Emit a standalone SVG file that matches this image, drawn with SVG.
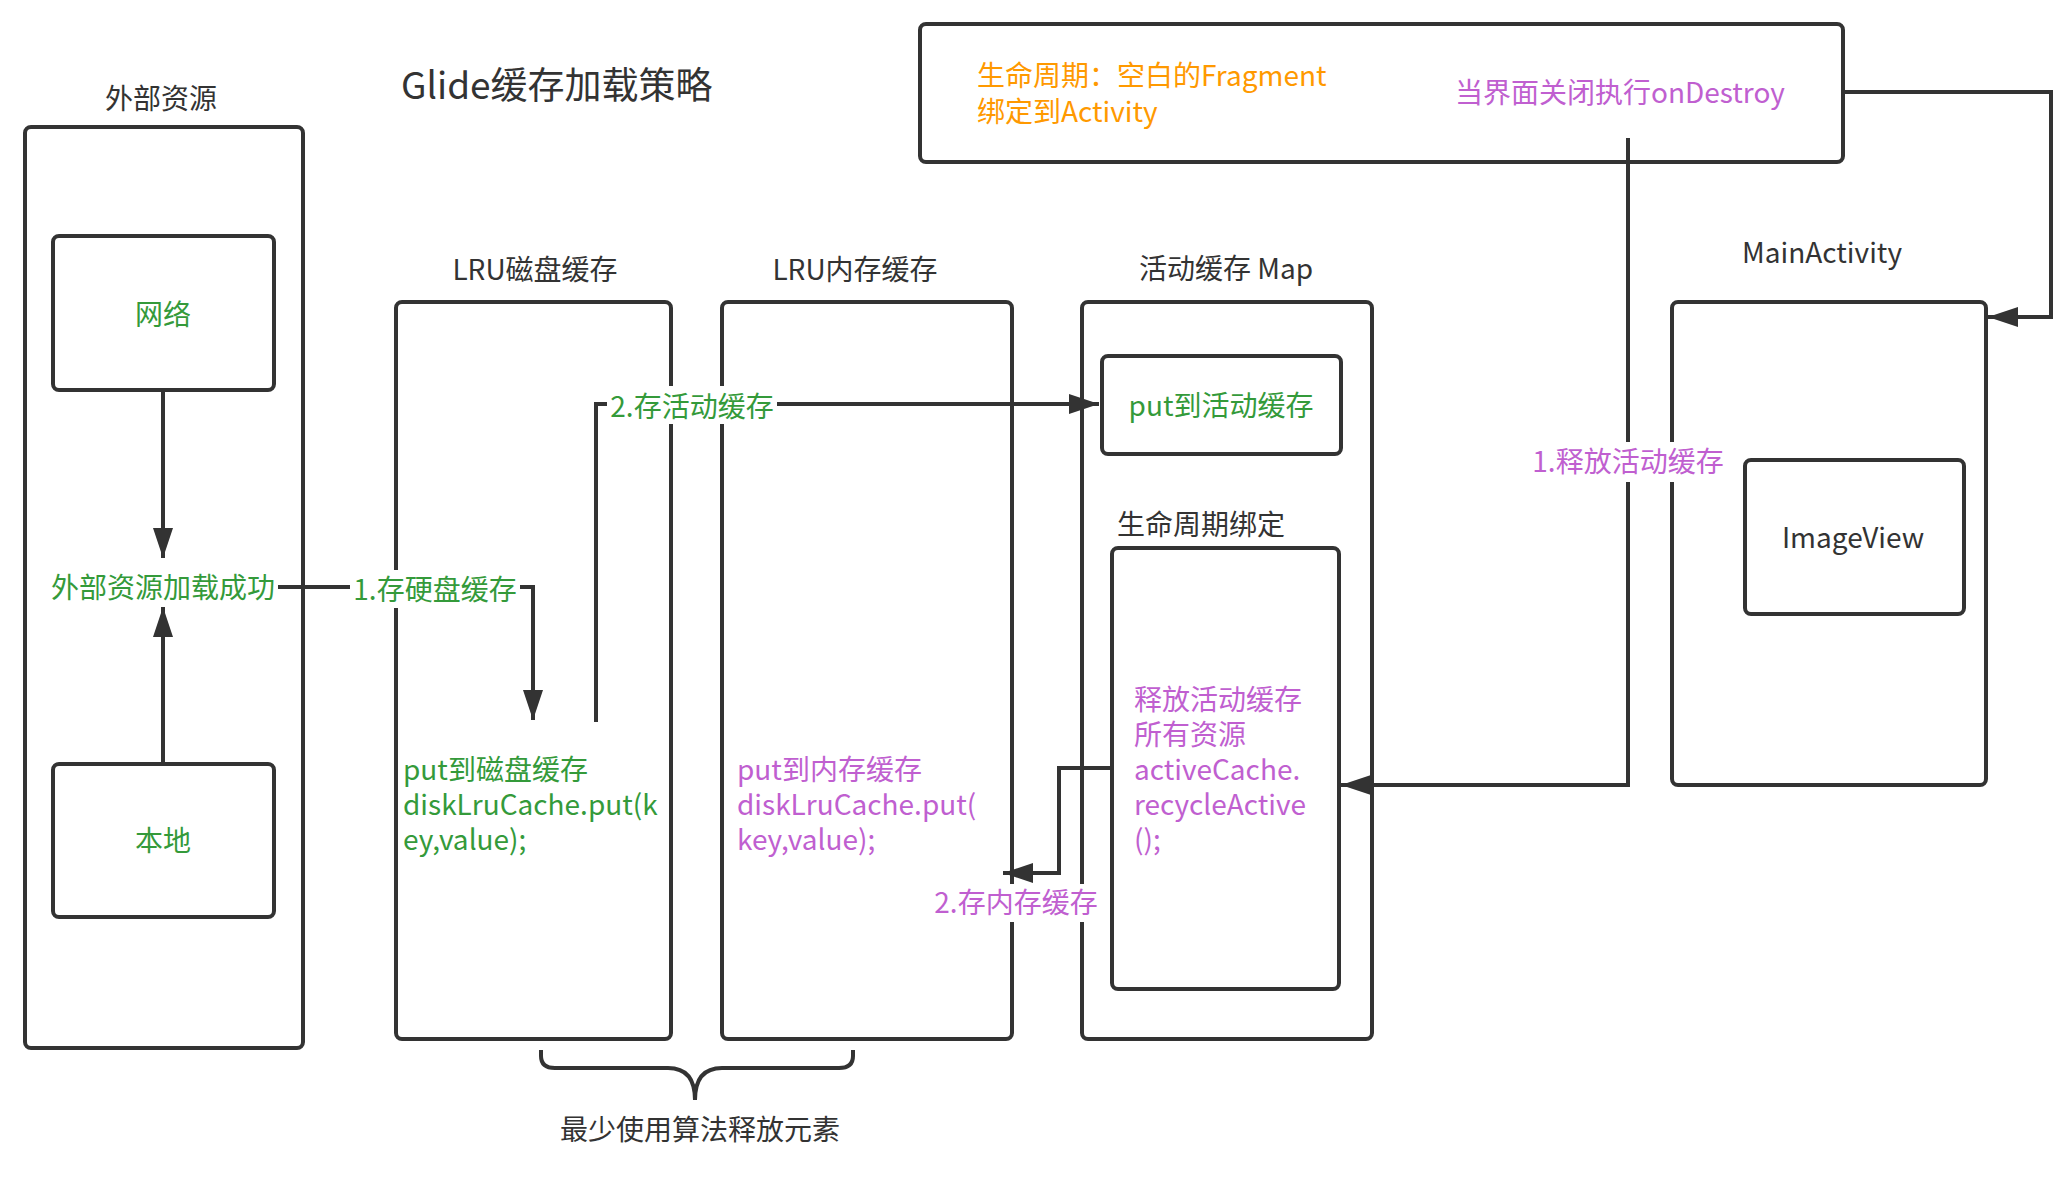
<svg xmlns="http://www.w3.org/2000/svg" width="2068" height="1178" viewBox="0 0 2068 1178">
<defs>
<style>
.box{fill:#fff;stroke:#333;stroke-width:4}
.t{font-family:"Noto Sans CJK SC","Noto Sans",sans-serif;font-size:28px}
.dk{fill:#333}
.gr{fill:#349a3a}
.pu{fill:#c05fd0}
.or{fill:#ff9900}
.c{text-anchor:middle}
.ln{fill:none;stroke:#333;stroke-width:4}
.bg{fill:#fff}
</style>
<marker id="ah" markerUnits="userSpaceOnUse" markerWidth="30" markerHeight="20" refX="30" refY="10" orient="auto" viewBox="0 0 30 20">
<path d="M0,0 L30,10 L0,20 z" fill="#333"/>
</marker>
</defs>
<rect width="2068" height="1178" fill="#fff"/>

<text class="t dk" x="401" y="99" style="font-size:37px">Glide缓存加载策略</text>

<g id="external">
<text class="t dk c" x="161" y="109">外部资源</text>
<rect class="box" x="25" y="127" width="278" height="921" rx="6"/>
</g>
<g id="network">
<rect class="box" x="53" y="236" width="221" height="154" rx="6"/>
<text class="t gr c" x="163" y="325">网络</text>
</g>
<g id="local">
<rect class="box" x="53" y="764" width="221" height="153" rx="6"/>
<text class="t gr c" x="163" y="851">本地</text>
</g>
<g id="loaded">
<text class="t gr c" x="163" y="598">外部资源加载成功</text>
</g>

<g id="disk">
<text class="t dk c" x="535" y="280">LRU磁盘缓存</text>
<rect class="box" x="396" y="302" width="275" height="737" rx="6"/>
<text class="t gr" x="403" y="780"><tspan x="403">put到磁盘缓存</tspan><tspan x="403" dy="35">diskLruCache.put(k</tspan><tspan x="403" dy="35">ey,value);</tspan></text>
</g>
<g id="memory">
<text class="t dk c" x="855" y="280">LRU内存缓存</text>
<rect class="box" x="722" y="302" width="290" height="737" rx="6"/>
<text class="t pu" x="737" y="780"><tspan x="737">put到内存缓存</tspan><tspan x="737" dy="35">diskLruCache.put(</tspan><tspan x="737" dy="35">key,value);</tspan></text>
</g>
<g id="active">
<text class="t dk c" x="1226" y="279">活动缓存 Map</text>
<rect class="box" x="1082" y="302" width="290" height="737" rx="6"/>
</g>
<g id="putActive">
<rect class="box" x="1102" y="356" width="239" height="98" rx="6"/>
<text class="t gr c" x="1221" y="416">put到活动缓存</text>
</g>
<g id="lifecycle">
<text class="t dk c" x="1201" y="535">生命周期绑定</text>
<rect class="box" x="1112" y="548" width="227" height="441" rx="6"/>
<text class="t pu" x="1134" y="710"><tspan x="1134">释放活动缓存</tspan><tspan x="1134" dy="35">所有资源</tspan><tspan x="1134" dy="35">activeCache.</tspan><tspan x="1134" dy="35">recycleActive</tspan><tspan x="1134" dy="35">();</tspan></text>
</g>
<g id="mainActivity">
<text class="t dk c" x="1822" y="263">MainActivity</text>
<rect class="box" x="1672" y="302" width="314" height="483" rx="6"/>
</g>
<g id="imageView">
<rect class="box" x="1745" y="460" width="219" height="154" rx="6"/>
<text class="t dk c" x="1853" y="548">ImageView</text>
</g>
<g id="fragment">
<rect class="box" x="920" y="24" width="923" height="138" rx="6"/>
<text class="t or" x="977" y="86"><tspan x="977">生命周期：空白的Fragment</tspan><tspan x="977" dy="36">绑定到Activity</tspan></text>
<text class="t pu" x="1455" y="103">当界面关闭执行onDestroy</text>
</g>

<g id="connectors">
<path class="ln" d="M163,390 V558" marker-end="url(#ah)"/>
<path class="ln" d="M163,764 V607" marker-end="url(#ah)"/>
<path class="ln" d="M278,587 H533 V720" marker-end="url(#ah)"/>
<path class="ln" d="M596,722 V404 H1099" marker-end="url(#ah)"/>
<path class="ln" d="M1111,768 H1059 V873 H1003" marker-end="url(#ah)"/>
<path class="ln" d="M1628,138 V785 H1341" marker-end="url(#ah)"/>
<path class="ln" d="M1843,92 H2051 V317 H1988" marker-end="url(#ah)"/>
<path class="ln" d="M541,1050 V1056 Q541,1068 555,1068 H668 Q695,1068 695,1100 Q695,1068 722,1068 H839 Q853,1068 853,1056 V1050"/>
<rect class="bg" x="350" y="570" width="170" height="38"/>
<text class="t gr c" x="435" y="600">1.存硬盘缓存</text>
<rect class="bg" x="607" y="386" width="170" height="38"/>
<text class="t gr c" x="692" y="417">2.存活动缓存</text>
<rect class="bg" x="931" y="884" width="170" height="38"/>
<text class="t pu c" x="1016" y="913">2.存内存缓存</text>
<rect class="bg" x="1530" y="442" width="196" height="40"/>
<text class="t pu c" x="1628" y="472">1.释放活动缓存</text>
</g>

<text class="t dk c" x="700" y="1140">最少使用算法释放元素</text>
</svg>
